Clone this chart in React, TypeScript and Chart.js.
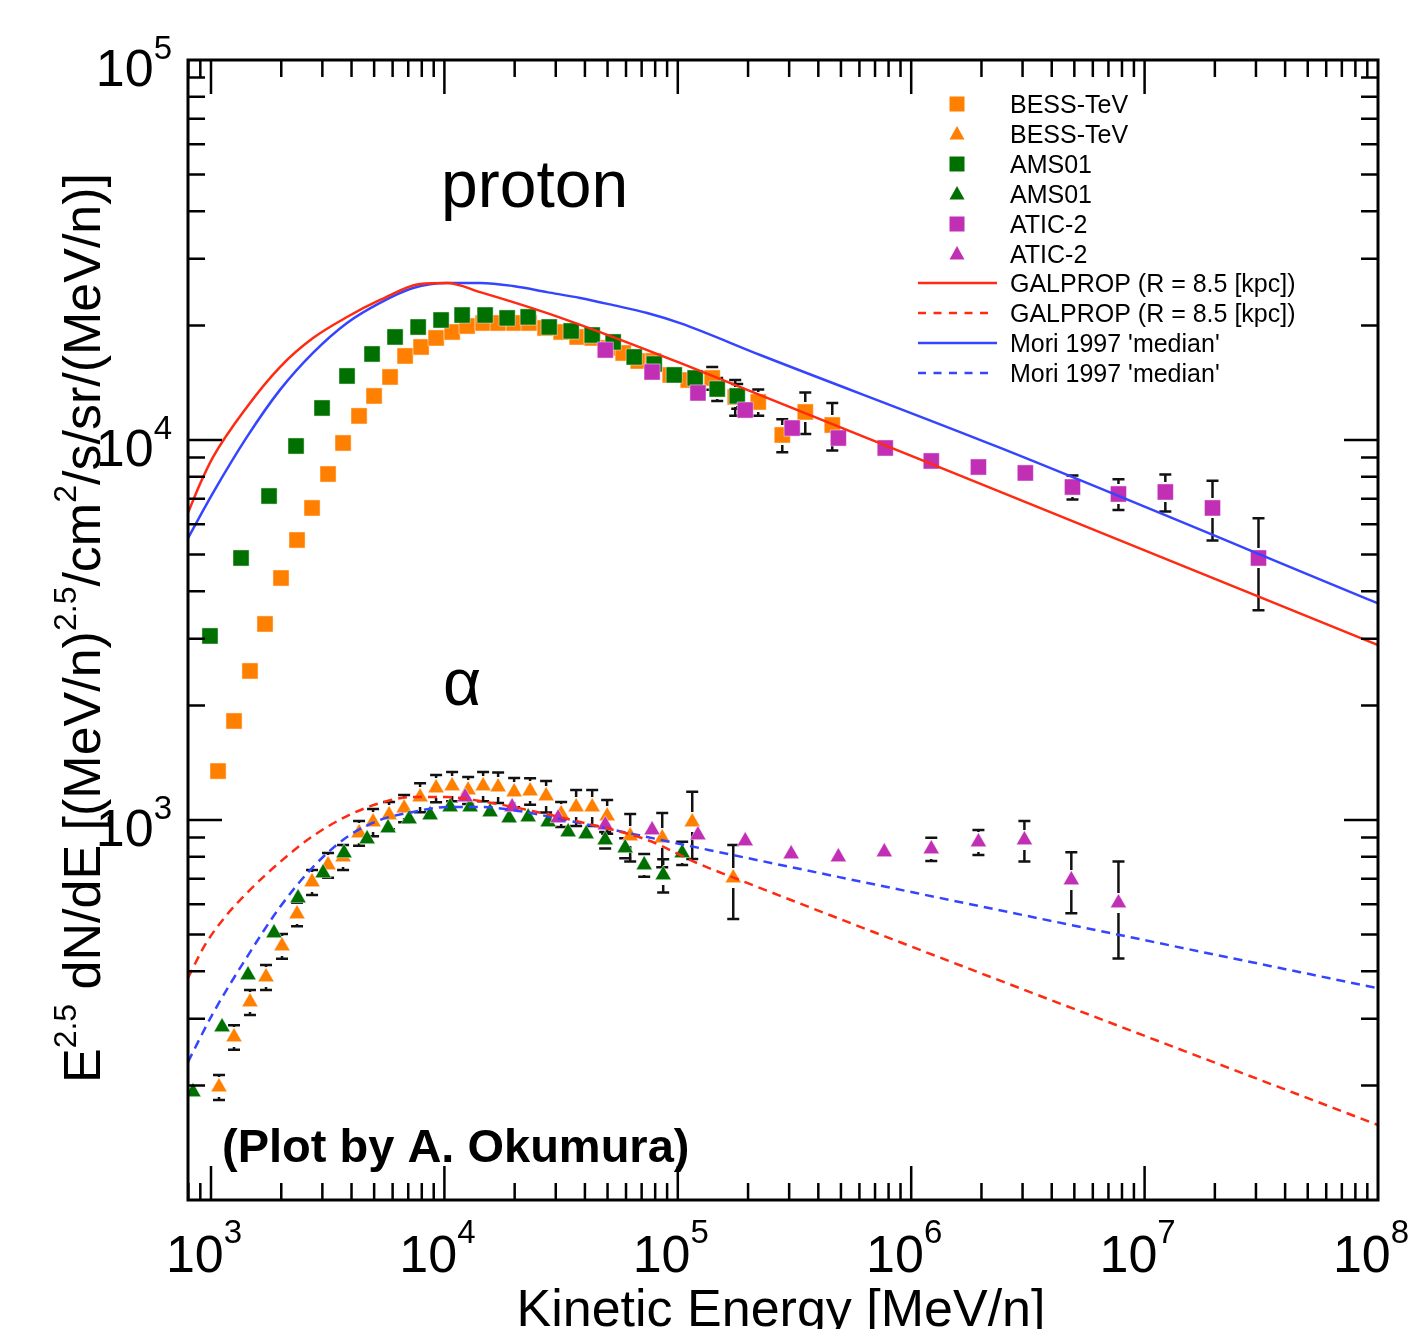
import React, { useEffect, useRef } from 'react';
import { Chart, registerables } from 'chart.js';

Chart.register(...registerables);

const FONT = '"Liberation Sans", Arial, Helvetica, sans-serif';

const ORANGE = '#ff7f00';
const GREEN = '#007000';
const MAGENTA = '#c12fb5';
const RED = '#ff2a12';
const BLUE = '#3545ff';

// ---------- axis ranges & tick labels ----------
const X_MIN = 797;
const X_MAX = 1e8;
const Y_MIN = 100;
const Y_MAX = 1e5;
const X_TICK_EXPONENTS = [3, 4, 5, 6, 7, 8];
const Y_TICK_EXPONENTS = [3, 4, 5];

// ---------- proton: BESS-TeV (orange squares) ----------
const BESS_P_E = [1072, 1255, 1469, 1704, 1995, 2337, 2710, 3173, 3680, 4309, 4997, 5850, 6786, 7946, 9213, 10790, 12510, 14650, 16990, 19900, 23070, 27010, 31640, 37050, 42970, 50300, 58340, 67680, 78450, 92770, 110800, 140400, 176200, 221100, 280300, 351700, 459000];
const BESS_P_F = [1345, 1822, 2467, 3280, 4333, 5455, 6625, 8137, 9820, 11570, 13060, 14650, 16640, 17570, 18560, 19240, 19950, 20320, 20320, 20320, 20320, 19710, 19240, 18670, 18560, 17470, 16940, 16140, 16140, 14830, 14380, 14560, 12980, 12590, 10310, 11850, 10950];
const BESS_P_ERR = [0, 0, 0, 0, 0, 0, 0, 0, 0, 0, 0, 0, 0, 0, 0, 0, 0, 0, 0, 0, 0, 0, 0, 0, 0, 0, 0, 0, 0, 0, 0, 1000, 1400, 1000, 1030, 1480, 1570];

// ---------- proton: AMS01 (green squares) ----------
const AMS_P_E = [990, 1345, 1773, 2314, 2991, 3827, 4898, 6147, 7717, 9680, 11910, 14940, 18570, 22850, 28110, 34920, 42970, 52850, 65040, 79220, 96510, 118700, 147500, 179700];
const AMS_P_F = [3050, 4892, 7122, 9643, 12140, 14740, 16840, 18670, 19830, 20690, 21320, 21320, 20950, 21080, 19830, 19360, 18890, 18110, 16540, 15850, 14830, 14560, 13620, 13060];
const AMS_P_ERR = [0, 0, 0, 0, 0, 0, 0, 0, 0, 0, 0, 0, 0, 0, 0, 0, 0, 0, 0, 0, 0, 0, 950, 980];

// ---------- proton: ATIC-2 (magenta squares) ----------
const ATIC_P_E = [48900, 77600, 122000, 194500, 309000, 487500, 774000, 1219000, 1941000, 3083000, 4909000, 7727000, 12270000, 19540000, 30760000];
const ATIC_P_F = [17250, 15100, 13300, 11990, 10750, 10120, 9527, 8806, 8490, 8190, 7520, 7209, 7298, 6625, 4892];
const ATIC_P_ERR = [0, 0, 0, 0, 0, 0, 0, 0, 0, 0, 550, 670, 810, 1190, 1330];

// ---------- alpha: BESS-TeV (orange triangles) ----------
const BESS_A_E = [1082, 1255, 1469, 1721, 2015, 2337, 2710, 3173, 3680, 4309, 4948, 5794, 6720, 7867, 9213, 10790, 12640, 14650, 16990, 19900, 23290, 27280, 31640, 36680, 42970, 49820, 62520, 85760, 115300, 172800];
const BESS_A_F = [198.3, 268.5, 332.0, 386.2, 466.1, 565.6, 686.9, 761.4, 799.1, 924.3, 987.9, 1031, 1075, 1149, 1214, 1229, 1199, 1229, 1221, 1185, 1192, 1157, 1037, 1082, 1082, 1024, 907.7, 896.8, 987.9, 703.9];
const BESS_A_ERR = [15, 20, 25, 29, 35, 40, 52, 57, 60, 69, 81, 85, 88, 101, 100, 108, 98, 108, 113, 105, 95, 110, 78, 117, 117, 104, 130, 146, 198, 155];

// ---------- alpha: AMS01 (green triangles) ----------
const AMS_A_E = [837, 1115, 1441, 1862, 2360, 3021, 3716, 4664, 5737, 7059, 8685, 10580, 12890, 15700, 18940, 22850, 27830, 33900, 40500, 48840, 59510, 71780, 86580, 104400];
const AMS_A_F = [192.4, 285.3, 390.9, 504.3, 623.3, 725.3, 818.9, 891.3, 952.6, 1006, 1031, 1082, 1082, 1050, 1012, 1018, 987.9, 929.9, 918.7, 886.0, 844.0, 761.4, 716.7, 818.9];
const AMS_A_ERR = [0, 0, 0, 0, 0, 0, 0, 0, 0, 0, 0, 0, 0, 0, 0, 0, 0, 0, 0, 44, 51, 52, 72, 57];

// ---------- alpha: ATIC-2 (magenta triangles) ----------
const ATIC_A_E = [12270, 19500, 30700, 48900, 77600, 122000, 194500, 306000, 487500, 767000, 1219000, 1941000, 3055000, 4853000, 7727000];
const ATIC_A_F = [1149, 1082, 1012, 970.1, 941.3, 913.2, 880.5, 813.8, 799.1, 823.8, 838.8, 875.2, 886.0, 695.3, 604.8];
const ATIC_A_ERR = [0, 0, 0, 0, 0, 0, 0, 0, 0, 0, 59, 66, 108, 127, 173];

// ---------- model curves ----------
const GAL_P_E = [797, 897, 1020, 1426, 1975, 2735, 3826, 5300, 7870, 10280, 14230, 27560, 52850, 102300, 2410000, 99500000];
const GAL_P_F = [6430, 7660, 9020, 12220, 15560, 18540, 21070, 23360, 25750, 25900, 24500, 21570, 18660, 15950, 7300, 2890];

const MORI_P_E = [797, 1020, 1426, 1975, 2735, 3826, 5300, 7340, 10280, 14230, 19690, 27560, 38170, 52850, 73950, 102300, 225500, 2410000, 99500000];
const MORI_P_F = [5520, 7260, 10190, 13550, 16960, 20330, 22960, 25120, 25900, 25900, 25430, 24500, 23640, 22640, 21590, 20300, 16740, 9530, 3720];

const GAL_A_E = [797, 942.6, 1148, 1426, 1975, 2735, 3826, 5300, 7340, 10280, 14230, 19690, 38190, 73960, 121100, 198200, 100000000];
const GAL_A_F = [384, 469, 555.5, 643, 775.1, 907.7, 1024, 1108, 1149, 1149, 1122, 1082, 988, 886, 770.3, 683, 157.5];

const MORI_A_E = [797, 1020, 1426, 1975, 2735, 3826, 5300, 7340, 10280, 14230, 19690, 38190, 102300, 198200, 99500000];
const MORI_A_F = [231, 310, 436, 590, 752, 902, 1000, 1050, 1082, 1082, 1062, 981.9, 864.8, 794.3, 361];

// ---------- texts ----------
const LABEL_PROTON = 'proton';
const LABEL_ALPHA = 'α';
const LABEL_CREDIT = '(Plot by A. Okumura)';
const X_TITLE = 'Kinetic Energy [MeV/n]';
const Y_TITLE: { t: string; sup?: boolean }[] = [
  { t: 'E' }, { t: '2.5', sup: true }, { t: ' dN/dE [(MeV/n)' }, { t: '2.5', sup: true },
  { t: '/cm' }, { t: '2', sup: true }, { t: '/s/sr/(MeV/n)]' },
];

const pts = (xs: number[], ys: number[]) => xs.map((v, i) => ({ x: v, y: ys[i] }));

const MAJOR = 34;
const MINOR = 17;
const GAP = 10;
const CAP = 6;

function drawRich(ctx: CanvasRenderingContext2D, parts: { t: string; sup?: boolean }[], x: number, y: number,
  size: number, supSize: number, raise: number, align: 'left' | 'center' | 'right') {
  const widths = parts.map((p) => {
    ctx.font = `${p.sup ? supSize : size}px ${FONT}`;
    return ctx.measureText(p.t).width;
  });
  const total = widths.reduce((a, b) => a + b, 0);
  let cx = align === 'left' ? x : align === 'center' ? x - total / 2 : x - total;
  ctx.textAlign = 'left';
  ctx.textBaseline = 'alphabetic';
  parts.forEach((p, i) => {
    ctx.font = `${p.sup ? supSize : size}px ${FONT}`;
    ctx.fillText(p.t, cx, p.sup ? y - raise : y);
    cx += widths[i];
  });
}

function drawMarker(ctx: CanvasRenderingContext2D, style: string, x: number, y: number, color: string) {
  ctx.fillStyle = color;
  ctx.beginPath();
  if (style === 'rect') {
    ctx.rect(x - 7.5, y - 7.5, 15, 15);
  } else {
    ctx.moveTo(x, y - 8);
    ctx.lineTo(x + 7.5, y + 5.5);
    ctx.lineTo(x - 7.5, y + 5.5);
    ctx.closePath();
  }
  ctx.fill();
}

const chartPlugin = {
  id: 'physFrame',
  beforeDatasetsDraw(chart: any) {
    const { ctx, chartArea: a, scales } = chart;
    const xs = scales.x;
    const ys = scales.y;
    ctx.save();
    ctx.beginPath();
    ctx.rect(a.left, a.top, a.right - a.left, a.bottom - a.top);
    ctx.clip();
    ctx.strokeStyle = '#111';
    ctx.lineWidth = 2.5;
    chart.data.datasets.forEach((ds: any) => {
      if (!ds.errors) return;
      ds.data.forEach((p: any, i: number) => {
        const err = ds.errors[i];
        if (!err) return;
        const px = xs.getPixelForValue(p.x);
        const pc = ys.getPixelForValue(p.y);
        const pt = ys.getPixelForValue(p.y + err);
        const pb = ys.getPixelForValue(Math.max(p.y - err, 1e-6));
        ctx.beginPath();
        if (pc - GAP > pt) { ctx.moveTo(px, pt); ctx.lineTo(px, pc - GAP); }
        if (pc + GAP < pb) { ctx.moveTo(px, pc + GAP); ctx.lineTo(px, pb); }
        ctx.moveTo(px - CAP, pt); ctx.lineTo(px + CAP, pt);
        ctx.moveTo(px - CAP, pb); ctx.lineTo(px + CAP, pb);
        ctx.stroke();
      });
    });
    ctx.restore();
  },
  afterDatasetsDraw(chart: any) {
    const { ctx, chartArea: a, scales } = chart;
    const xs = scales.x;
    const ys = scales.y;
    ctx.save();
    ctx.fillStyle = '#000';
    ctx.strokeStyle = '#000';

    // ticks
    ctx.lineWidth = 2.5;
    ctx.beginPath();
    for (let e = 2; e <= 8; e++) {
      for (let m = 1; m <= 9; m++) {
        const v = m * Math.pow(10, e);
        if (v < X_MIN || v >= X_MAX) continue;
        const px = xs.getPixelForValue(v);
        const len = m === 1 ? MAJOR : MINOR;
        ctx.moveTo(px, a.bottom); ctx.lineTo(px, a.bottom - len);
        ctx.moveTo(px, a.top); ctx.lineTo(px, a.top + len);
      }
    }
    for (let e = 2; e <= 5; e++) {
      for (let m = 1; m <= 9; m++) {
        const v = m * Math.pow(10, e);
        if (v <= Y_MIN || v >= Y_MAX) continue;
        const py = ys.getPixelForValue(v);
        const len = m === 1 ? MAJOR : MINOR;
        ctx.moveTo(a.left, py); ctx.lineTo(a.left + len, py);
        ctx.moveTo(a.right, py); ctx.lineTo(a.right - len, py);
      }
    }
    ctx.stroke();

    // frame
    ctx.lineWidth = 3;
    ctx.strokeRect(a.left, a.top, a.right - a.left, a.bottom - a.top);

    // tick labels
    X_TICK_EXPONENTS.forEach((k) => {
      const px = xs.getPixelForValue(Math.pow(10, k));
      drawRich(ctx, [{ t: '10' }, { t: String(k), sup: true }], px - 7, a.bottom + 72, 52, 33, 29, 'center');
    });
    Y_TICK_EXPONENTS.forEach((k) => {
      const py = ys.getPixelForValue(Math.pow(10, k));
      drawRich(ctx, [{ t: '10' }, { t: String(k), sup: true }], 172, py + 26, 52, 33, 27, 'right');
    });

    // axis titles
    drawRich(ctx, [{ t: X_TITLE }], (a.left + a.right) / 2 - 2, 1326, 52, 32, 0, 'center');
    ctx.save();
    ctx.translate(100, (a.top + a.bottom) / 2 - 2);
    ctx.rotate(-Math.PI / 2);
    drawRich(ctx, Y_TITLE, 0, 0, 52, 32, 24, 'center');
    ctx.restore();

    // annotations
    ctx.textAlign = 'left';
    ctx.textBaseline = 'alphabetic';
    ctx.font = `66px ${FONT}`;
    ctx.fillText(LABEL_PROTON, 441, 207);
    ctx.fillText(LABEL_ALPHA, 443, 705);
    ctx.font = `bold 47px ${FONT}`;
    ctx.fillText(LABEL_CREDIT, 222, 1162);

    // legend
    const rowY = [104, 134, 164, 194, 224, 254, 283, 313, 343, 373];
    chart.data.datasets.forEach((ds: any, i: number) => {
      const y = rowY[i];
      if (ds.showLine) {
        ctx.save();
        ctx.strokeStyle = ds.borderColor;
        ctx.lineWidth = 2.5;
        const dashed = ds.borderDash && ds.borderDash.length;
        ctx.setLineDash(dashed ? [8, 7.5] : []);
        ctx.beginPath();
        ctx.moveTo(918, y);
        ctx.lineTo(dashed ? 989 : 997, y);
        ctx.stroke();
        ctx.restore();
      } else {
        drawMarker(ctx, ds.pointStyle, 957, y, ds.pointBackgroundColor);
      }
      ctx.fillStyle = '#000';
      ctx.font = `25px ${FONT}`;
      ctx.textAlign = 'left';
      ctx.textBaseline = 'alphabetic';
      ctx.fillText(ds.label, 1010, y + 9);
    });
    ctx.restore();
  },
};

function markerSet(label: string, xs: number[], ys: number[], errs: number[], style: string, color: string, order: number) {
  const r = style === 'rect' ? 11.4 : 9.4;
  return {
    label,
    data: pts(xs, ys),
    errors: errs,
    showLine: false,
    pointStyle: style,
    pointRadius: r,
    pointHoverRadius: r,
    pointBackgroundColor: color,
    pointBorderColor: 'rgba(255,255,255,0.6)',
    pointBorderWidth: 0.8,
    backgroundColor: color,
    borderColor: color,
    order,
  };
}

function curveSet(label: string, xs: number[], ys: number[], color: string, dashed: boolean) {
  return {
    label,
    data: pts(xs, ys),
    showLine: true,
    borderColor: color,
    backgroundColor: color,
    borderWidth: 2.5,
    borderDash: dashed ? [9, 6] : [],
    pointRadius: 0,
    pointHoverRadius: 0,
    fill: false,
    cubicInterpolationMode: 'monotone',
    order: 0,
  };
}

export default function App() {
  const ref = useRef<HTMLCanvasElement>(null);
  useEffect(() => {
    document.body.style.margin = '0';
    const canvas = ref.current;
    if (!canvas) return;
    const chart = new Chart(canvas, {
      type: 'scatter',
      data: {
        datasets: [
          markerSet('BESS-TeV', BESS_P_E, BESS_P_F, BESS_P_ERR, 'rect', ORANGE, 6),
          markerSet('BESS-TeV', BESS_A_E, BESS_A_F, BESS_A_ERR, 'triangle', ORANGE, 5),
          markerSet('AMS01', AMS_P_E, AMS_P_F, AMS_P_ERR, 'rect', GREEN, 4),
          markerSet('AMS01', AMS_A_E, AMS_A_F, AMS_A_ERR, 'triangle', GREEN, 3),
          markerSet('ATIC-2', ATIC_P_E, ATIC_P_F, ATIC_P_ERR, 'rect', MAGENTA, 2),
          markerSet('ATIC-2', ATIC_A_E, ATIC_A_F, ATIC_A_ERR, 'triangle', MAGENTA, 1),
          curveSet('GALPROP (R = 8.5 [kpc])', GAL_P_E, GAL_P_F, RED, false),
          curveSet('GALPROP (R = 8.5 [kpc])', GAL_A_E, GAL_A_F, RED, true),
          curveSet("Mori 1997 'median'", MORI_P_E, MORI_P_F, BLUE, false),
          curveSet("Mori 1997 'median'", MORI_A_E, MORI_A_F, BLUE, true),
        ] as any,
      },
      options: {
        responsive: false,
        animation: false,
        devicePixelRatio: 1,
        events: [],
        layout: { padding: { left: 188, top: 60, right: 31, bottom: 129 } },
        plugins: { legend: { display: false }, tooltip: { enabled: false } },
        scales: {
          x: { type: 'logarithmic', min: X_MIN, max: X_MAX, display: false },
          y: { type: 'logarithmic', min: Y_MIN, max: Y_MAX, display: false },
        },
      } as any,
      plugins: [chartPlugin as any],
    });
    return () => chart.destroy();
  }, []);
  return (
    <div style={{ position: 'absolute', left: 0, top: 0, width: 1409, height: 1329, background: '#fff' }}>
      <canvas ref={ref} width={1409} height={1329} style={{ display: 'block', width: 1409, height: 1329 }} />
    </div>
  );
}
